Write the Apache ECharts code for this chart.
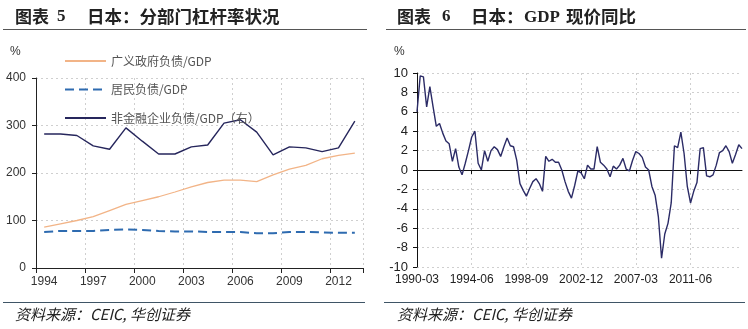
<!DOCTYPE html>
<html>
<head>
<meta charset="utf-8">
<script src="https://cdn.jsdelivr.net/npm/echarts@6/dist/echarts.min.js"></script>
<style>
html,body{margin:0;padding:0;background:#fff;}
#c{width:748px;height:329px;}
</style>
</head>
<body>
<div id="c"></div>
<script>
// ---------- Left chart: Japan sector leverage (% of GDP) ----------
const years = ['1994','1995','1996','1997','1998','1999','2000','2001','2002','2003',
               '2004','2005','2006','2007','2008','2009','2010','2011','2012','2013'];
const govDebt = [86, 93, 100, 108, 121, 134, 142, 150, 160, 171, 180, 185, 185, 182, 196, 208, 216, 230, 237, 242];
const householdDebt = [76, 78, 78, 78, 80, 81, 80, 78, 77, 77, 76, 76, 76, 73, 73, 76, 76, 75, 74, 74];
const corpDebt = [282, 282, 279, 257, 250, 295, 267, 240, 240, 255, 259, 305, 312, 286, 238, 255, 253, 245, 253, 309];
const leftYTicks = [0, 100, 200, 300, 400];

// ---------- Right chart: Japan nominal GDP YoY (%) ----------
const quarters = [];
for (let y = 1990; y <= 2015; y++) {
  ['03','06','09','12'].forEach(m => { quarters.push(y + '-' + m); });
}
quarters.length = 102; // 1990-03 .. 2015-06
const gdpYoY = [
  6.0, 9.7, 9.6, 6.5, 8.6, 6.5, 4.5, 4.8, 3.8, 3.0,
  2.7, 0.9, 2.2, 0.3, -0.5, 0.7, 2.0, 3.4, 4.0, 0.7,
  0.0, 2.0, 0.9, 2.0, 2.4, 2.1, 1.4, 2.4, 3.3, 2.5,
  2.4, 1.0, -1.4, -2.1, -2.7, -1.9, -1.2, -0.9, -1.4, -2.2,
  1.4, 0.9, 1.1, 0.8, 0.8, 0.0, -1.2, -2.2, -2.9, -1.6,
  -0.1, -0.3, -0.9, 0.5, 0.1, 0.1, 2.4, 0.8, 0.5, 0.1,
  -0.7, 0.4, 0.1, 0.5, 1.2, 0.1, -0.1, 1.0, 1.9, 1.7,
  1.3, 0.3, 0.0, -1.7, -2.6, -4.8, -9.1, -6.6, -5.5, -3.4,
  2.5, 2.3, 3.9, 1.7, -1.7, -3.4, -2.2, -1.3, 2.2, 2.3,
  -0.6, -0.7, -0.5, 0.5, 1.8, 2.0, 2.5, 1.9, 0.7, 1.6,
  2.6, 2.2
];

const gridLine = {show: true, lineStyle: {color: '#cfcfcf', type: [2, 3], width: 1}};
const axisFont = 'Liberation Sans, Arial, sans-serif';
const cjk = '"Noto Sans CJK SC", sans-serif';

const chart = echarts.init(document.getElementById('c'), null, {renderer: 'canvas'});
chart.setOption({
  backgroundColor: '#ffffff',
  animation: false,
  grid: [
    {left: 36, top: 78, width: 327, height: 190},
    {left: 417, top: 73, width: 325, height: 194}
  ],
  legend: {
    orient: 'vertical', left: 59, top: 50,
    itemWidth: 41, itemHeight: 12, itemGap: 16.5,
    itemStyle: {opacity: 0},
    textStyle: {fontSize: 12, color: '#555', fontFamily: cjk},
    data: ['广义政府负债/GDP', '居民负债/GDP', '非金融企业负债/GDP（右）']
  },
  xAxis: [
    {
      type: 'category', gridIndex: 0, data: years, boundaryGap: true,
      axisLine: {lineStyle: {color: '#222', width: 1}},
      axisTick: {show: true, interval: 2, length: 5, lineStyle: {color: '#222'}},
      axisLabel: {interval: 2, margin: 8, fontSize: 12, color: '#333', fontFamily: axisFont},
      splitLine: Object.assign({interval: 2}, gridLine)
    },
    {
      type: 'category', gridIndex: 1, data: quarters, boundaryGap: false, position: 'bottom',
      axisLine: {onZero: true, lineStyle: {color: '#111', width: 1}},
      axisTick: {show: true, interval: 16, length: 4, lineStyle: {color: '#111'}},
      axisLabel: {show: false},
      splitLine: Object.assign({interval: 16}, gridLine)
    },
    {
      type: 'category', gridIndex: 1, data: quarters, boundaryGap: false, position: 'bottom',
      axisLine: {show: false, onZero: false},
      axisTick: {show: false},
      axisLabel: {interval: 16, margin: 7, fontSize: 12, color: '#222', fontFamily: axisFont},
      splitLine: {show: false}
    }
  ],
  yAxis: [
    {
      type: 'value', gridIndex: 0, min: leftYTicks[0], max: leftYTicks[leftYTicks.length - 1], interval: 100,
      axisLine: {show: true, lineStyle: {color: '#222'}},
      axisTick: {show: true, length: 4, lineStyle: {color: '#222'}},
      axisLabel: {margin: 10, fontSize: 12, color: '#333', fontFamily: axisFont},
      splitLine: gridLine
    },
    {
      type: 'value', gridIndex: 1, min: -10, max: 10, interval: 2,
      axisLine: {show: true, lineStyle: {color: '#111'}},
      axisTick: {show: true, length: 4, lineStyle: {color: '#111'}},
      axisLabel: {margin: 9, fontSize: 13, color: '#222', fontFamily: axisFont},
      splitLine: gridLine
    }
  ],
  series: [
    {
      name: '广义政府负债/GDP', type: 'line', xAxisIndex: 0, yAxisIndex: 0,
      data: govDebt, symbol: 'none', smooth: false,
      lineStyle: {color: '#F2B487', width: 1.3}, itemStyle: {color: '#F2B487'}
    },
    {
      name: '居民负债/GDP', type: 'line', xAxisIndex: 0, yAxisIndex: 0,
      data: householdDebt, symbol: 'none',
      lineStyle: {color: '#2E6BB0', width: 2, type: [9, 5]}, itemStyle: {color: '#2E6BB0'}
    },
    {
      name: '非金融企业负债/GDP（右）', type: 'line', xAxisIndex: 0, yAxisIndex: 0,
      data: corpDebt, symbol: 'none',
      lineStyle: {color: '#26265C', width: 1.4}, itemStyle: {color: '#26265C'}
    },
    {
      name: 'GDP现价同比', type: 'line', xAxisIndex: 1, yAxisIndex: 1,
      data: gdpYoY, symbol: 'none',
      lineStyle: {color: '#2B2B66', width: 1.4}, itemStyle: {color: '#2B2B66'}
    }
  ],
  graphic: [
    // titles
    {type: 'text', left: 15, top: 8, style: {text: '图表', font: 'bold 17px ' + cjk, fill: '#222'}},
    {type: 'text', left: 57, top: 8, style: {text: '5', font: 'bold 17px "Liberation Serif", serif', fill: '#222'}},
    {type: 'text', left: 87, top: 8, style: {text: '日本：分部门杠杆率状况', font: 'bold 17.5px ' + cjk, fill: '#222'}},
    {type: 'text', left: 397, top: 8, style: {text: '图表', font: 'bold 17px ' + cjk, fill: '#222'}},
    {type: 'text', left: 442, top: 8, style: {text: '6', font: 'bold 17px "Liberation Serif", serif', fill: '#222'}},
    {type: 'text', left: 471, top: 8, style: {text: '日本：', font: 'bold 17.5px ' + cjk, fill: '#222'}},
    {type: 'text', left: 524, top: 9, style: {text: 'GDP', font: 'bold 17px "Liberation Serif", serif', fill: '#222'}},
    {type: 'text', left: 566, top: 8, style: {text: '现价同比', font: 'bold 17.5px ' + cjk, fill: '#222'}},
    // title rules
    {type: 'line', shape: {x1: 3, y1: 29.5, x2: 367, y2: 29.5}, style: {stroke: '#555', lineWidth: 1}},
    {type: 'line', shape: {x1: 386, y1: 29.5, x2: 746, y2: 29.5}, style: {stroke: '#555', lineWidth: 1}},
    // unit labels
    {type: 'text', left: 10, top: 46, style: {text: '%', font: '12px ' + axisFont, fill: '#333'}},
    {type: 'text', left: 394, top: 46, style: {text: '%', font: '12px ' + axisFont, fill: '#333'}},
    // source rules
    {type: 'line', shape: {x1: 3, y1: 302.5, x2: 365, y2: 302.5}, style: {stroke: '#3f5566', lineWidth: 1}},
    {type: 'line', shape: {x1: 384, y1: 302.5, x2: 745, y2: 302.5}, style: {stroke: '#3f5566', lineWidth: 1}},
    // sources
    {type: 'text', left: 15, top: 307, style: {text: '资料来源：CEIC, 华创证券', font: 'italic 15px ' + cjk, fill: '#222'}},
    {type: 'text', left: 397, top: 307, style: {text: '资料来源：CEIC, 华创证券', font: 'italic 15px ' + cjk, fill: '#222'}}
  ]
});
</script>
</body>
</html>
